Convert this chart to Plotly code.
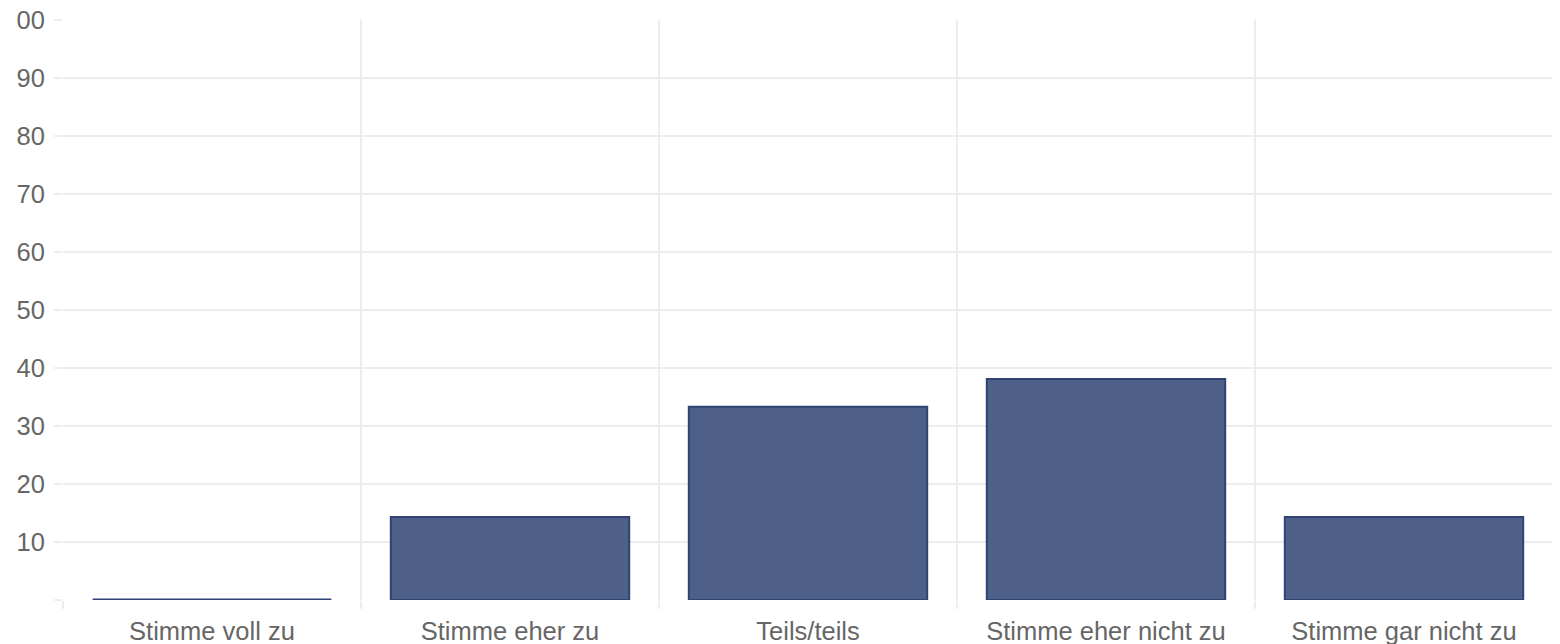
import plotly.graph_objects as go

categories = ["Stimme voll zu", "Stimme eher zu", "Teils/teils", "Stimme eher nicht zu", "Stimme gar nicht zu"]
values = [0.0, 14.29, 33.33, 38.10, 14.29]
y_tick_values = [0, 10, 20, 30, 40, 50, 60, 70, 80, 90, 100]
y_tick_labels = ["", "10", "20", "30", "40", "50", "60", "70", "80", "90", "00"]

FILL = "#4e6087"
EDGE = "#2f4475"
GRID = "#ededed"
FONT = dict(family="Liberation Sans, Arial, sans-serif", size=25.5, color="#666666")

fig = go.Figure()
fig.add_trace(go.Bar(
    x=categories, y=values,
    marker=dict(color=FILL, line=dict(color=EDGE, width=2)),
    width=0.8,
    hoverinfo="x+y",
))

# zero-valued bars still show their border line (as in the reference)
for i, v in enumerate(values):
    if v == 0:
        fig.add_shape(type="line", xref="x", yref="y",
                      x0=i - 0.4, x1=i + 0.4, y0=v, y1=v,
                      line=dict(color=EDGE, width=3), layer="above")

# the HTML page adds an 8px body margin, so margins are shifted accordingly
fig.update_layout(
    width=1560, height=644,
    margin=dict(l=55, r=15, t=12, b=52, autoexpand=False),
    paper_bgcolor="white", plot_bgcolor="white",
    showlegend=False,
    font=FONT,
    bargap=0.2,
)
fig.update_xaxes(
    type="category",
    automargin=False,
    range=[-0.5, len(categories) - 0.5],
    tickson="boundaries",
    showgrid=True, gridcolor=GRID, gridwidth=2,
    ticks="outside", ticklen=8, tickcolor=GRID, tickwidth=2,
    ticklabelstandoff=13,
    ticklabeloverflow="allow",
    showline=False, zeroline=False,
    tickfont=FONT,
)
fig.update_yaxes(
    automargin=False,
    range=[0, 100],
    tickvals=y_tick_values, ticktext=y_tick_labels,
    showgrid=True, gridcolor=GRID, gridwidth=2,
    ticks="outside", ticklen=8, tickcolor=GRID, tickwidth=2,
    ticklabelstandoff=4,
    ticklabeloverflow="allow",
    showline=False, zeroline=False,
    tickfont=FONT,
)

fig.write_html("out.html")
